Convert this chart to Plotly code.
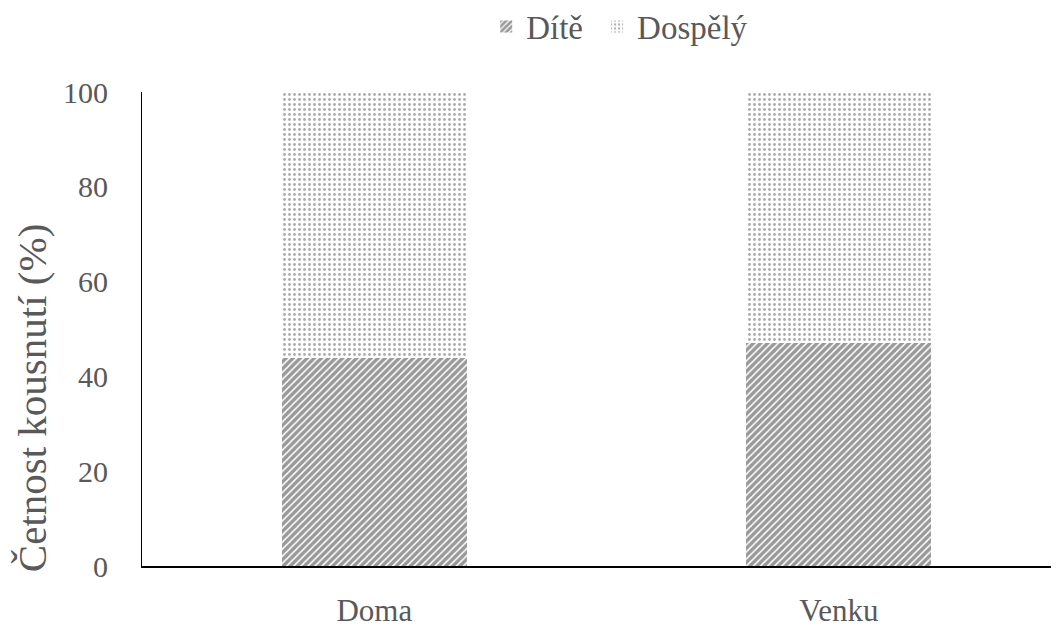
import plotly.graph_objects as go

categories = ["Doma", "Venku"]
dite = [43.8, 47.0]
dospely = [56.2, 53.0]
y_ticks = [0, 20, 40, 60, 80, 100]

grey = "#595959"
ff = "Liberation Serif"

fig = go.Figure()
fig.add_trace(go.Bar(
    x=categories, y=dite, name="Dítě", width=0.398, legend="legend", showlegend=True,
    marker=dict(color="white", line=dict(width=0),
                pattern=dict(shape="/", fgcolor="#333333", bgcolor="white", size=5, solidity=0.7)),
))
fig.add_trace(go.Bar(
    x=categories, y=dospely, name="Dospělý", width=0.398, legend="legend2", showlegend=True,
    marker=dict(color="white", line=dict(width=0),
                pattern=dict(shape=".", fgcolor="#555555", bgcolor="white", size=5, solidity=0.25)),
))

legend_common = dict(orientation="h", xref="container", yref="container",
                     yanchor="middle", y=0.97, xanchor="left",
                     font=dict(family=ff, size=33, color=grey), itemwidth=30)

# page body has an 8px default margin; size the figure so the plot lands where the reference has it
fig.update_layout(
    barmode="stack",
    showlegend=True,
    width=1051, height=618,
    margin=dict(l=134, r=0, t=84, b=60, autoexpand=False),
    paper_bgcolor="white", plot_bgcolor="white",
    font=dict(family=ff, color=grey, size=30),
    legend=dict(legend_common, x=0.455, visible=True),
    legend2=dict(legend_common, x=0.5605, visible=True),
    bargap=0,
    annotations=[dict(
        text="Četnost kousnutí (%)", textangle=-90,
        xref="paper", yref="paper", x=-0.12, y=0.354,
        xanchor="center", yanchor="middle", showarrow=False,
        font=dict(family=ff, size=41, color=grey),
    )],
)
fig.update_xaxes(
    range=[-0.5, 1.474], showline=True, linecolor="black", linewidth=2,
    ticks="", tickfont=dict(family=ff, size=31, color=grey),
    ticklabelstandoff=16, automargin=False,
)
fig.update_yaxes(
    range=[0, 100], tickvals=y_ticks, showgrid=False, zeroline=False,
    showline=True, linecolor="black", linewidth=1, ticks="",
    tickfont=dict(family=ff, size=30, color=grey), ticklabelstandoff=27,
    automargin=False,
)

fig.write_html("out.html")
